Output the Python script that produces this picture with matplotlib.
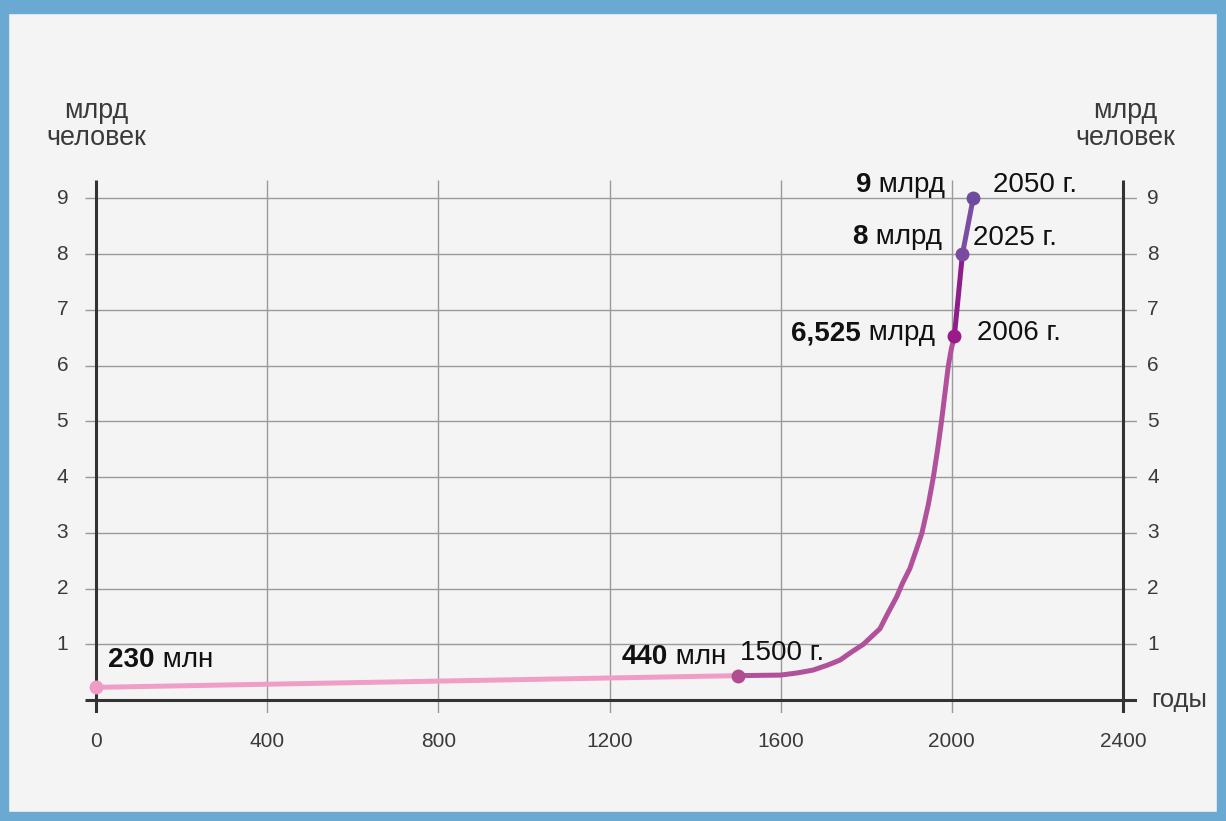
import matplotlib.pyplot as plt
from matplotlib.patches import Rectangle

# key points (year, billions of people)
key_years = [0, 1500, 2006, 2025, 2050]
key_pop = [0.23, 0.44, 6.525, 8.0, 9.0]
key_bold = ['230', '440', '6,525', '8', '9']
key_unit = ['млн', 'млн', 'млрд', 'млрд', 'млрд']
key_year_lbl = ['', '1500 г.', '2006 г.', '2025 г.', '2050 г.']

curve_years = [1500, 1600, 1640, 1676, 1710, 1739, 1765, 1793, 1832, 1850,
               1871, 1885, 1902, 1915, 1930, 1945, 1957, 1967, 1976, 1984,
               1992, 1999, 2006]
curve_pop = [0.44, 0.45, 0.49, 0.54, 0.63, 0.72, 0.86, 1.0, 1.28, 1.55,
             1.85, 2.1, 2.36, 2.65, 2.99, 3.5, 4.0, 4.5, 5.0, 5.5,
             6.0, 6.3, 6.525]

x_ticks = [0, 400, 800, 1200, 1600, 2000, 2400]
y_ticks = [1, 2, 3, 4, 5, 6, 7, 8, 9]

seg_colors = ['#ef9fc6', '#b2519b', '#8e1f8a', '#7a4ea0']
dot_colors = ['#f09cc4', '#b04c90', '#9a1a8a', '#7a4aa0', '#6c4c9c']

W, H = 1226, 821
fig = plt.figure(figsize=(W / 100, H / 100), dpi=100)
fig.patch.set_facecolor('#f4f4f4')
# blue frame
blue = '#6aa9d1'
for (x0, y0, w, h) in [(0, 0, 8, H), (W - 9, 0, 9, H), (0, 0, W, 9), (0, H - 13, W, 13)]:
    fig.patches.append(Rectangle((x0 / W, y0 / H), w / W, h / H,
                                 transform=fig.transFigure, color=blue, zorder=0))

ax = fig.add_axes([85 / W, 1 - 713 / H, (1137 - 85) / W, (713 - 180) / H])
ax.set_facecolor('#f4f4f4')
ax.set_xlim(-26, 2433)
ax.set_ylim(-0.23, 9.33)
for s in ax.spines.values():
    s.set_visible(False)
ax.set_xticks([])
ax.set_yticks([])

# grid
ax.hlines(y_ticks, -26, 2433, color='#9a9a9a', linewidth=1.0, zorder=1)
ax.vlines(x_ticks[1:-1], -0.23, 9.33, color='#9a9a9a', linewidth=1.0, zorder=1)
# axes lines
ax.hlines(0, -26, 2433, color='#333333', linewidth=2.2, zorder=2)
ax.vlines([0, 2400], -0.23, 9.33, color='#333333', linewidth=2.2, zorder=2)

# tick labels
tick_kw = dict(fontsize=15, color='#3a3a3a', family='Liberation Sans')
for yv in y_ticks:
    ax.text(-79, yv, str(yv), ha='center', va='center', clip_on=False, **tick_kw)
    ax.text(2470, yv, str(yv), ha='center', va='center', clip_on=False, **tick_kw)
for xv in x_ticks:
    ax.text(xv, -0.74, str(xv), ha='center', va='center', **tick_kw)
ax.text(2467, 0, 'годы', ha='left', va='center', fontsize=18.5,
        color='#3a3a3a', family='Liberation Sans')

unit_kw = dict(fontsize=19.4, color='#3a3a3a', family='Liberation Sans',
               ha='center', va='baseline')
for xc in [0, 2405]:
    ax.text(xc, 10.44, 'млрд', **unit_kw)
    ax.text(xc, 9.96, 'человек', **unit_kw)

# line segments
lw = 3.6
ax.plot(key_years[:2], key_pop[:2], color=seg_colors[0], lw=lw, zorder=3,
        solid_capstyle='round')
ax.plot(curve_years, curve_pop, color=seg_colors[1], lw=lw, zorder=3,
        solid_capstyle='round', solid_joinstyle='round')
ax.plot(key_years[2:4], key_pop[2:4], color=seg_colors[2], lw=lw, zorder=3)
ax.plot(key_years[3:5], key_pop[3:5], color=seg_colors[3], lw=lw, zorder=3)
for xv, yv, c in zip(key_years, key_pop, dot_colors):
    ax.plot(xv, yv, 'o', color=c, markersize=9, zorder=4)

# annotations
lab_kw = dict(fontsize=20, color='#111111', family='Liberation Sans')

# 230 млн at left
t = ax.annotate('230', (28, 0.72), xycoords='data', fontweight='bold',
                ha='left', va='center', **lab_kw)
ax.annotate(' млн', xy=(1, 0.5), xycoords=t, ha='left', va='center', **lab_kw)

right_pos = [None, (1472, 0.77), (1961, 6.58), (1977, 8.3), (1984, 9.24)]
for i in range(1, 5):
    x, y = right_pos[i]
    u = ax.annotate(' ' + key_unit[i], (x, y), xycoords='data', ha='right',
                    va='center', **lab_kw)
    ax.annotate(key_bold[i], xy=(0, 0.5), xycoords=u, ha='right', va='center',
                fontweight='bold', **lab_kw)

year_pos = [None, (1505, 0.84), (2059, 6.58), (2050, 8.29), (2096, 9.24)]
for i in range(1, 5):
    x, y = year_pos[i]
    ax.text(x, y, key_year_lbl[i], ha='left', va='center', **lab_kw)

fig.savefig('out.png', dpi=100, facecolor=fig.get_facecolor())
